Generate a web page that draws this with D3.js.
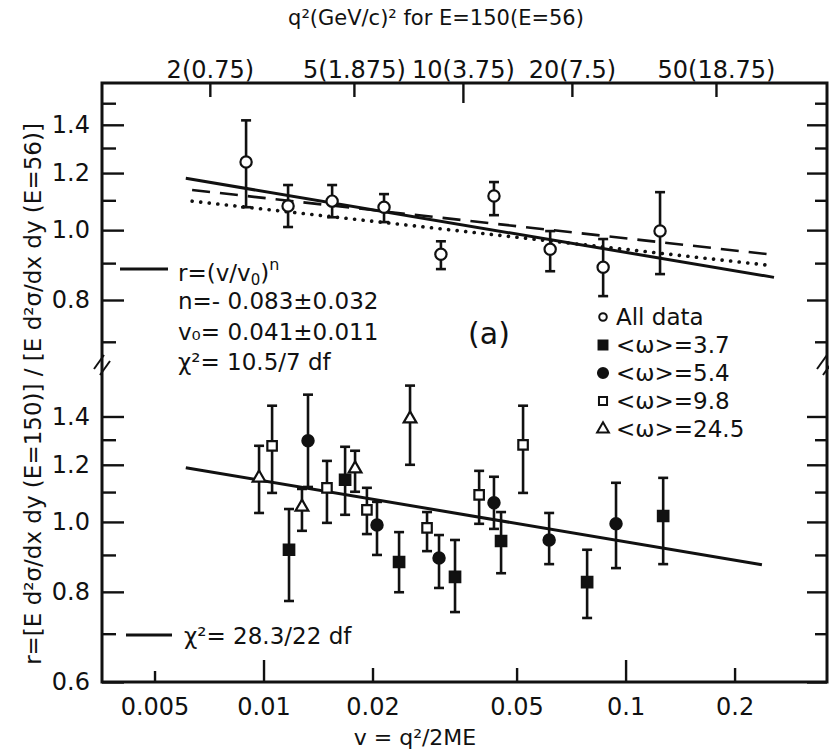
<!DOCTYPE html>
<html>
<head>
<meta charset="utf-8">
<script src="https://cdn.jsdelivr.net/npm/d3@7"></script>
<style>
  body { margin: 0; background: #fff; }
  svg { display: block; font-family: "DejaVu Sans", sans-serif; }
</style>
</head>
<body>
<div id="chart-container"></div>
<script>
// points: [v, r, rLow, rHigh]
const allData = [
    [0.00895, 1.243, 1.076, 1.42],
    [0.01169, 1.080, 1.010, 1.155],
    [0.01547, 1.097, 1.042, 1.155],
    [0.02152, 1.076, 1.026, 1.122],
    [0.0309, 0.926, 0.883, 0.965],
    [0.0433, 1.115, 1.049, 1.166],
    [0.0619, 0.941, 0.877, 0.997],
    [0.0867, 0.888, 0.810, 0.972],
    [0.1245, 0.997, 0.869, 1.129]
];
const omega37 = [
    [0.01176, 0.915, 0.777, 1.042],
    [0.0168, 1.144, 1.023, 1.271],
    [0.02368, 0.880, 0.799, 0.968],
    [0.0338, 0.839, 0.750, 0.944],
    [0.0453, 0.941, 0.849, 1.032],
    [0.0783, 0.825, 0.736, 0.915],
    [0.1270, 1.019, 0.874, 1.151]
];
const omega54 = [
    [0.01327, 1.296, 1.118, 1.501],
    [0.02058, 0.990, 0.900, 1.066],
    [0.03053, 0.891, 0.810, 0.959],
    [0.0433, 1.063, 0.978, 1.155],
    [0.0615, 0.944, 0.874, 1.029],
    [0.0941, 0.994, 0.863, 1.133]
];
const omega98 = [
    [0.01056, 1.275, 1.097, 1.449],
    [0.01497, 1.115, 0.997, 1.215],
    [0.0193, 1.039, 0.962, 1.115],
    [0.02829, 0.981, 0.911, 1.032],
    [0.0394, 1.090, 0.994, 1.177],
    [0.0521, 1.279, 1.097, 1.449]
];
const omega245 = [
    [0.00972, 1.151, 1.029, 1.275],
    [0.01277, 1.049, 0.972, 1.111],
    [0.0179, 1.185, 1.101, 1.255],
    [0.02539, 1.390, 1.200, 1.545]
];

// fitted curves (end points)
const fitAll = [[0.0061, 1.18], [0.257, 0.86]];
const fitDashed = [[0.00635, 1.137], [0.2475, 0.926]];
const fitDotted = [[0.00635, 1.097], [0.2475, 0.894]];
const fitLower = [[0.0061, 1.189], [0.238, 0.872]];

const xTicks = [0.005, 0.01, 0.02, 0.05, 0.1, 0.2];
const xTickLabels = ["0.005", "0.01", "0.02", "0.05", "0.1", "0.2"];
const q2Ticks = [2, 5, 10, 20, 50];
const q2TickLabels = ["2(0.75)", "5(1.875)", "10(3.75)", "20(7.5)", "50(18.75)"];
const upperMajor = [0.8, 1.0, 1.2, 1.4];
const upperMinor = [0.7, 0.9, 1.1, 1.3, 1.5];
const lowerMajor = [0.6, 0.8, 1.0, 1.2, 1.4];
const lowerMinor = [0.7, 0.9, 1.1, 1.3];

const legendItems = ["All data", "<ω>=3.7", "<ω>=5.4", "<ω>=9.8", "<ω>=24.5"];

function renderChart() {
    const width = 829;
    const height = 752;
    const plotLeft = 102;
    const plotRight = 827;
    const plotTop = 83;
    const plotBottom = 682;
    const breakY = 365;
    const twoME = 2 * 0.938 * 150;   // v = q^2 / 2ME, E = 150 GeV

    const svg = d3.create("svg")
        .attr("width", width)
        .attr("height", height)
        .attr("viewBox", [0, 0, width, height]);

    const x = d3.scaleLog().domain([0.00358, 0.36]).range([plotLeft, plotRight]);
    const yUp = d3.scaleLog().domain([0.65, 1.6]).range([breakY, plotTop]);
    const yLo = d3.scaleLog().domain([0.6, 1.65]).range([plotBottom, breakY]);

    const ink = "#111";

    // frame
    svg.append("rect")
        .attr("x", plotLeft).attr("y", plotTop)
        .attr("width", plotRight - plotLeft).attr("height", plotBottom - plotTop)
        .attr("fill", "none").attr("stroke", ink).attr("stroke-width", 3);

    const styleAxis = g => {
        g.select(".domain").remove();
        g.selectAll(".tick line").attr("stroke", ink).attr("stroke-width", 2.4);
        g.selectAll(".tick text").attr("fill", ink).attr("font-size", "24px")
            .attr("font-family", "DejaVu Sans");
    };

    // bottom axis
    svg.append("g")
        .attr("transform", `translate(0,${plotBottom})`)
        .call(d3.axisBottom(x).tickValues(xTicks)
            .tickFormat((d, i) => xTickLabels[i])
            .tickSizeInner(-14).tickSizeOuter(0).tickPadding(16))
        .call(styleAxis)
        .call(g => g.selectAll(".tick line")
            .attr("y2", d => d === 0.005 ? -11 : (d === 0.01 || d === 0.1) ? -22 : -14));

    // top axis in q^2
    svg.append("g")
        .attr("transform", `translate(0,${plotTop})`)
        .call(d3.axisTop(x).tickValues(q2Ticks.map(q => q / twoME))
            .tickFormat((d, i) => q2TickLabels[i])
            .tickSizeInner(-14).tickSizeOuter(0).tickPadding(5))
        .call(styleAxis)
        .call(g => g.selectAll(".tick line")
            .attr("y2", (d, i) => q2Ticks[i] === 10 ? 20 : 14));

    // left / right y axes for both panels
    const panels = [
        {y: yUp, major: upperMajor, minor: upperMinor},
        {y: yLo, major: lowerMajor, minor: lowerMinor}
    ];
    panels.forEach(p => {
        svg.append("g")
            .attr("transform", `translate(${plotLeft},0)`)
            .call(d3.axisLeft(p.y).tickValues(p.major)
                .tickFormat(d3.format(".1f"))
                .tickSizeInner(-22).tickSizeOuter(0).tickPadding(12))
            .call(styleAxis);
        svg.append("g")
            .attr("transform", `translate(${plotLeft},0)`)
            .call(d3.axisLeft(p.y).tickValues(p.minor).tickFormat("")
                .tickSizeInner(-14).tickSizeOuter(0))
            .call(styleAxis);
        svg.append("g")
            .attr("transform", `translate(${plotRight},0)`)
            .call(d3.axisRight(p.y).tickValues(p.major).tickFormat("")
                .tickSizeInner(-20).tickSizeOuter(0))
            .call(styleAxis);
        svg.append("g")
            .attr("transform", `translate(${plotRight},0)`)
            .call(d3.axisRight(p.y).tickValues(p.minor).tickFormat("")
                .tickSizeInner(-12).tickSizeOuter(0))
            .call(styleAxis);
    });

    // axis break marks
    [plotLeft, plotRight - 2].forEach(bx => {
        [-3, 3].forEach(off => {
            svg.append("line")
                .attr("x1", bx - 5 + off).attr("y1", breakY + 7 + off)
                .attr("x2", bx + 5 + off).attr("y2", breakY - 7 + off)
                .attr("stroke", ink).attr("stroke-width", 2);
        });
    });

    // fitted lines
    const line = yScale => d3.line().x(d => x(d[0])).y(d => yScale(d[1]));
    svg.append("path").attr("d", line(yUp)(fitAll))
        .attr("fill", "none").attr("stroke", ink).attr("stroke-width", 3);
    svg.append("path").attr("d", line(yUp)(fitDashed))
        .attr("fill", "none").attr("stroke", ink).attr("stroke-width", 2.6)
        .attr("stroke-dasharray", "18,10");
    svg.append("path").attr("d", line(yUp)(fitDotted))
        .attr("fill", "none").attr("stroke", ink).attr("stroke-width", 3.6)
        .attr("stroke-linecap", "round").attr("stroke-dasharray", "0.1,8.5");
    svg.append("path").attr("d", line(yLo)(fitLower))
        .attr("fill", "none").attr("stroke", ink).attr("stroke-width", 3);

    // data with error bars
    function drawPoints(data, yScale, symbolType, size, filled) {
        const g = svg.append("g");
        const bars = g.selectAll(".err").data(data).join("g").attr("class", "err");
        bars.append("line")
            .attr("x1", d => x(d[0])).attr("x2", d => x(d[0]))
            .attr("y1", d => yScale(d[2])).attr("y2", d => yScale(d[3]))
            .attr("stroke", ink).attr("stroke-width", 2.6);
        [2, 3].forEach(k => {
            bars.append("line")
                .attr("x1", d => x(d[0]) - 5).attr("x2", d => x(d[0]) + 5)
                .attr("y1", d => yScale(d[k])).attr("y2", d => yScale(d[k]))
                .attr("stroke", ink).attr("stroke-width", 2.6);
        });
        g.selectAll(".pt").data(data).join("path")
            .attr("class", "pt")
            .attr("transform", d => `translate(${x(d[0])},${yScale(d[1])})`)
            .attr("d", d3.symbol().type(symbolType).size(size))
            .attr("fill", filled ? ink : "#fff")
            .attr("stroke", ink).attr("stroke-width", 2.2);
    }

    drawPoints(allData, yUp, d3.symbolCircle, 100, false);
    drawPoints(omega37, yLo, d3.symbolSquare, 110, true);
    drawPoints(omega54, yLo, d3.symbolCircle, 100, true);
    drawPoints(omega98, yLo, d3.symbolSquare, 90, false);
    drawPoints(omega245, yLo, d3.symbolTriangle, 70, false);

    // fit annotation, upper panel
    svg.append("line").attr("x1", 120).attr("x2", 168).attr("y1", 269).attr("y2", 269)
        .attr("stroke", ink).attr("stroke-width", 3);
    const note = svg.append("g").attr("font-size", "23px").attr("fill", ink);
    const formula = note.append("text").attr("x", 178).attr("y", 281);
    formula.append("tspan").text("r=(v/v");
    formula.append("tspan").attr("font-size", "15px").attr("dy", 4).text("0");
    formula.append("tspan").attr("dy", -4).text(")");
    formula.append("tspan").attr("font-size", "16px").attr("dy", -11).text("n");
    note.append("text").attr("x", 178).attr("y", 309).text("n=- 0.083±0.032");
    note.append("text").attr("x", 178).attr("y", 340).text("v₀= 0.041±0.011");
    note.append("text").attr("x", 178).attr("y", 370).text("χ²= 10.5/7 df");

    // fit annotation, lower panel
    svg.append("line").attr("x1", 126).attr("x2", 172).attr("y1", 635).attr("y2", 635)
        .attr("stroke", ink).attr("stroke-width", 3);
    note.append("text").attr("x", 184).attr("y", 644).text("χ²= 28.3/22 df");

    // panel tag
    svg.append("text").attr("x", 489).attr("y", 344)
        .attr("text-anchor", "middle").attr("font-size", "30px").attr("fill", ink)
        .text("(a)");

    // symbol legend
    const legendSymbols = [
        {type: d3.symbolCircle, size: 45, filled: false},
        {type: d3.symbolSquare, size: 80, filled: true},
        {type: d3.symbolCircle, size: 80, filled: true},
        {type: d3.symbolSquare, size: 65, filled: false},
        {type: d3.symbolTriangle, size: 60, filled: false}
    ];
    const legend = svg.append("g").attr("font-size", "23px").attr("fill", ink);
    legendItems.forEach((label, i) => {
        const ly = 317 + i * 28;
        legend.append("path")
            .attr("transform", `translate(603,${ly})`)
            .attr("d", d3.symbol().type(legendSymbols[i].type).size(legendSymbols[i].size))
            .attr("fill", legendSymbols[i].filled ? ink : "#fff")
            .attr("stroke", ink).attr("stroke-width", 2);
        legend.append("text").attr("x", 616).attr("y", ly + 8).text(label);
    });

    // axis titles
    svg.append("text").attr("x", 436).attr("y", 25)
        .attr("text-anchor", "middle").attr("font-size", "21px").attr("fill", ink)
        .text("q²(GeV/c)² for E=150(E=56)");
    svg.append("text").attr("x", 415).attr("y", 745)
        .attr("text-anchor", "middle").attr("font-size", "22px").attr("fill", ink)
        .text("v = q²/2ME");
    svg.append("text")
        .attr("transform", "translate(41,394) rotate(-90)")
        .attr("text-anchor", "middle").attr("font-size", "23px").attr("fill", ink)
        .text("r=[E d²σ/dx dy (E=150)] / [E d²σ/dx dy (E=56)]");

    document.getElementById("chart-container").appendChild(svg.node());
}

renderChart();
</script>
</body>
</html>
